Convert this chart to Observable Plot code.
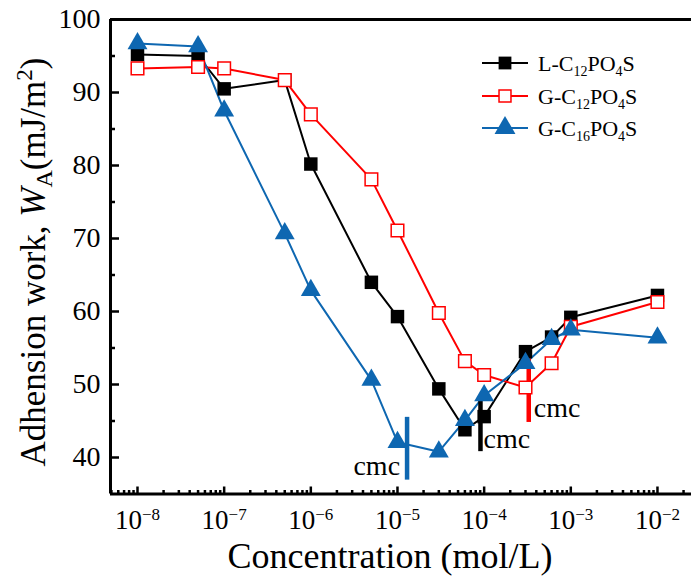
<!DOCTYPE html>
<html><head><meta charset="utf-8">
<script src="https://cdn.jsdelivr.net/npm/d3@7"></script>
<script src="https://cdn.jsdelivr.net/npm/@observablehq/plot@0.6"></script>
<style>body{margin:0;background:#fff;overflow:hidden}</style>
</head><body><div id="chart"></div>
<script>
// ---- data ----
const conc = [1e-8, 5e-8, 1e-7, 5e-7, 1e-6, 5e-6, 1e-5, 3e-5, 6e-5, 1e-4, 3e-4, 6e-4, 1e-3, 1e-2];
const L12 = [95.2, 95.0, 90.5, 91.7, 80.2, 64.0, 59.3, 49.4, 43.8, 45.6, 54.5, 56.5, 59.2, 62.2];
const G12 = [93.3, 93.5, 93.3, 91.7, 87.0, 78.1, 71.1, 59.8, 53.2, 51.3, 49.6, 52.9, 57.9, 61.3];
const G16 = [96.7, 96.3, 87.5, 70.7, 62.9, 50.6, 42.1, 40.8, 45.1, 48.5, 52.9, 56.2, 57.5, 56.4];
const seriesKeys = ["L12", "G12", "G16"];
const seriesLabel = [["L-C", "12", "PO", "4", "S"], ["G-C", "12", "PO", "4", "S"], ["G-C", "16", "PO", "4", "S"]];
const seriesColor = ["#000000", "#ff0000", "#0e67b1"];
// cmc markers (concentration, y range, label baseline)
const cmcX = [1.29e-5, 9.07e-5, 3.27e-4];
const cmcY1 = [36.9, 40.8, 44.8];
const cmcY2 = [45.5, 48.1, 53.5];
const cmcLabelY = [37.6, 41.3, 45.5];
const cmcColor = ["#0e67b1", "#000000", "#ff0000"];
// ticks
const xTicks = [1e-8, 1e-7, 1e-6, 1e-5, 1e-4, 1e-3, 1e-2];
const yTicks = [40, 50, 60, 70, 80, 90, 100];
const yMinor = [45, 55, 65, 75, 85, 95];
const xDomain = [4.88e-9, 0.0247];
const yDomain = [35, 100];

const xMinor = [];
for (let e = -9; e <= -2; e++) for (let m = 2; m <= 9; m++) {
  const v = m * Math.pow(10, e);
  if (v > xDomain[0] && v < xDomain[1]) xMinor.push(v);
}

const rows = conc.map((c, i) => ({c, L12: L12[i], G12: G12[i], G16: G16[i]}));
const cmc = cmcX.map((x, i) => ({x, y1: cmcY1[i], y2: cmcY2[i], ly: cmcLabelY[i], color: cmcColor[i]}));

const rS = 7.6, rO = 7.1, rT = 7.4;

const plot = Plot.plot({
  width: 691, height: 576,
  marginLeft: 110, marginRight: 0, marginTop: 19, marginBottom: 82.5,
  style: {fontFamily: "'Liberation Serif', 'Times New Roman', serif", background: "white", color: "black", overflow: "visible"},
  x: {type: "log", domain: xDomain, axis: null},
  y: {domain: yDomain, axis: null},
  marks: [
    // tick marks (inward)
    Plot.axisY({ticks: yTicks, tickSize: -9, fill: "none", label: null, strokeWidth: 2.5}),
    Plot.axisY({ticks: yMinor, tickSize: -5, fill: "none", label: null, strokeWidth: 2.5}),
    Plot.axisX({ticks: xTicks, tickSize: -7, fill: "none", label: null, strokeWidth: 2.5}),
    Plot.axisX({ticks: xMinor, tickSize: -3.5, fill: "none", label: null, strokeWidth: 2.5}),
    // tick labels
    Plot.axisY({ticks: yTicks, tickSize: 0, tickPadding: 10, fontSize: 28, label: null}),
    Plot.axisX({ticks: xTicks, tickSize: 0, tickPadding: 16, fontSize: 27, label: null,
      tickFormat: d => "10^" + Math.round(Math.log10(d))}),
    // frame lines
    Plot.ruleY([yDomain[1]], {strokeWidth: 3}),
    Plot.ruleY([yDomain[0]], {strokeWidth: 3}),
    Plot.ruleX([xDomain[0]], {strokeWidth: 3}),
    // series lines
    ...seriesKeys.map((k, i) => Plot.line(rows, {x: "c", y: k, stroke: seriesColor[i], strokeWidth: 2})),
    // cmc markers
    Plot.ruleX(cmc, {x: "x", y1: "y1", y2: "y2", stroke: "color", strokeWidth: 4.5}),
    Plot.text(cmc.slice(0, 1), {x: "x", y: "ly", text: () => "cmc", dx: -7, textAnchor: "end", lineAnchor: "bottom", fontSize: 28, fill: "black"}),
    Plot.text(cmc.slice(1, 2), {x: "x", y: "ly", text: () => "cmc", dx: 3, textAnchor: "start", lineAnchor: "bottom", fontSize: 28, fill: "black"}),
    Plot.text(cmc.slice(2, 3), {x: "x", y: "ly", text: () => "cmc", dx: 5, textAnchor: "start", lineAnchor: "bottom", fontSize: 28, fill: "black"}),
    // markers
    Plot.dot(rows, {x: "c", y: "L12", symbol: "square", r: rS, fill: "#000000", stroke: "none"}),
    Plot.dot(rows, {x: "c", y: "G12", symbol: "square", r: rO, fill: "white", stroke: "#ff0000", strokeWidth: 1.5}),
    Plot.dot(rows, {x: "c", y: "G16", symbol: "triangle", r: rT, fill: "#0e67b1", stroke: "none"})
  ]
});

const svg = d3.select(plot);
// superscript tick labels
svg.selectAll('g[aria-label="x-axis tick label"] text').each(function () {
  const t = d3.select(this);
  const s = t.text();
  const exp = s.split("^")[1].replace("-", "\u2212");
  t.text(null);
  t.append("tspan").text("10");
  t.append("tspan").attr("dy", -9).attr("font-size", 17).text(exp);
});

const font = "'Liberation Serif', 'Times New Roman', serif";
// x title
svg.append("text").attr("x", 390).attr("y", 568).attr("text-anchor", "middle")
  .attr("font-family", font).attr("font-size", 36).attr("fill", "black").text("Concentration (mol/L)");
// y title
const yt = svg.append("text").attr("transform", "translate(45,262) rotate(-90)").attr("text-anchor", "middle")
  .attr("font-family", font).attr("font-size", 35).attr("fill", "black");
yt.append("tspan").text("Adhension work, ");
yt.append("tspan").attr("font-style", "italic").text("W");
yt.append("tspan").attr("font-size", 24).attr("dy", 7).text("A");
yt.append("tspan").attr("dy", -7).text("(mJ/m");
yt.append("tspan").attr("font-size", 23).attr("dy", -13).text("2");
yt.append("tspan").attr("dy", 13).text(")");

// legend
const legY = [63, 96, 128];
const symbols = [d3.symbolSquare, d3.symbolSquare, d3.symbolTriangle];
const radii = [rS * 0.95, rO * 0.95, rT * 1.05];
const leg = svg.append("g");
seriesKeys.forEach((k, i) => {
  const g = leg.append("g").attr("transform", `translate(0,${legY[i]})`);
  g.append("line").attr("x1", 482).attr("x2", 528).attr("stroke", seriesColor[i]).attr("stroke-width", 2);
  const p = g.append("path").attr("transform", "translate(505,0)")
    .attr("d", d3.symbol(symbols[i], Math.PI * radii[i] * radii[i])());
  if (i === 1) p.attr("fill", "white").attr("stroke", "#ff0000").attr("stroke-width", 1.5);
  else p.attr("fill", seriesColor[i]);
  const t = g.append("text").attr("x", 538).attr("y", 8).attr("text-anchor", "start")
    .attr("font-family", font).attr("font-size", 22).attr("fill", "black");
  const parts = seriesLabel[i];
  t.append("tspan").text(parts[0]);
  t.append("tspan").attr("font-size", 14).attr("dy", 5).text(parts[1]);
  t.append("tspan").attr("dy", -5).text(parts[2]);
  t.append("tspan").attr("font-size", 14).attr("dy", 5).text(parts[3]);
  t.append("tspan").attr("dy", -5).text(parts[4]);
});

document.getElementById("chart").append(plot);
</script>
</body></html>
